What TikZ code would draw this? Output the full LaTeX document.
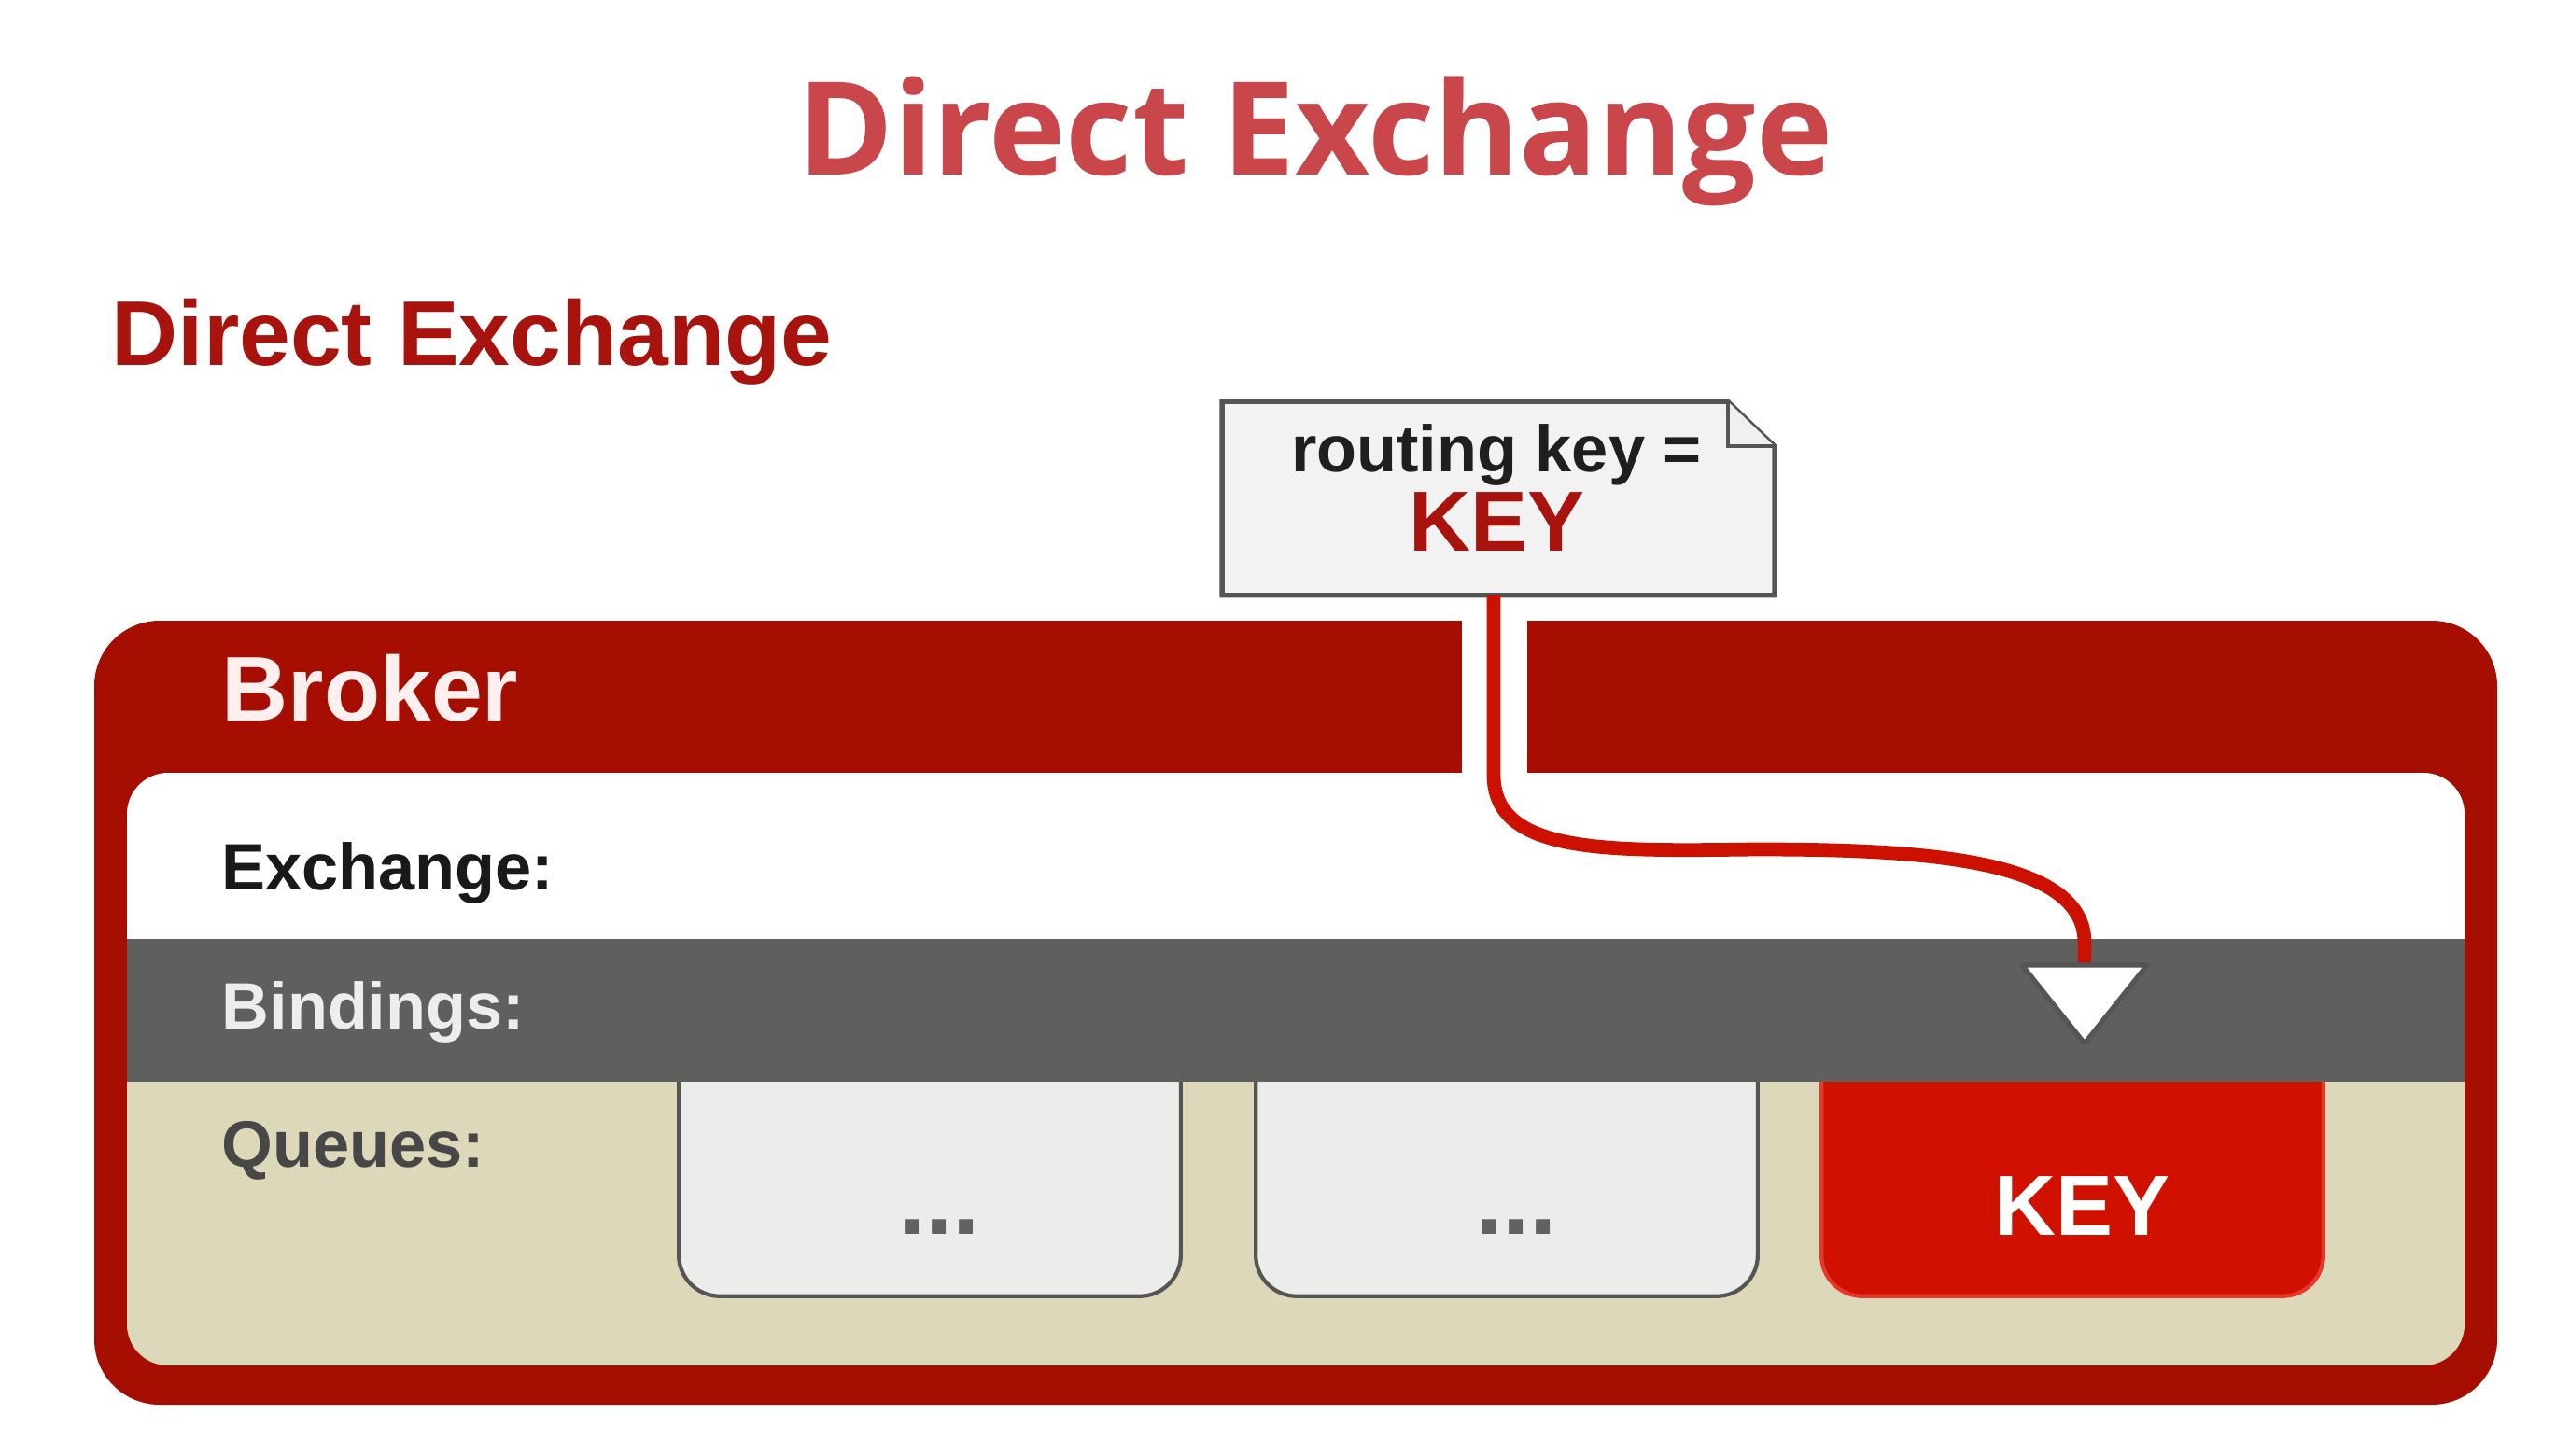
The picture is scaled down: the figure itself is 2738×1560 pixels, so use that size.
\documentclass[tikz,border=0pt]{standalone}
\usepackage{fontspec}
\setmainfont{Liberation Sans}
\newfontfamily\titlefont{Open Sans}
\usepackage{tikz}
\usetikzlibrary{positioning, calc}
\definecolor{titlered}{HTML}{C9464A}
\definecolor{subred}{HTML}{A8130D}
\definecolor{brokerred}{HTML}{A50E00}
\definecolor{bindgray}{HTML}{5F605D}
\definecolor{queuebeige}{HTML}{DED8BA}
\definecolor{shadowbeige}{HTML}{C6C3A6}
\definecolor{queuefill}{HTML}{ECEDEB}
\definecolor{edgegray}{HTML}{555555}
\definecolor{keyred}{HTML}{D01100}
\definecolor{keyedge}{HTML}{E8382A}
\definecolor{routered}{HTML}{CC1100}
\definecolor{notefill}{HTML}{F2F2F2}

\begin{document}
\begin{tikzpicture}[
    x=0.01cm, y=-0.01cm,
    lbl/.style={anchor=base west, inner sep=0pt, font=\bfseries\fontsize{20}{24}\selectfont},
    qbox/.style={minimum width=5.36cm, minimum height=2.29cm, inner sep=0pt},
    qshape/.style={draw=#1, line width=1.2pt, rounded corners=0.44cm},
    route/.style={draw=routered, line width=4.2pt},
  ]
  \useasboundingbox[fill=white] (0,0) rectangle (2738,1560);

  % titles
  \node[anchor=base, inner sep=0pt, text=titlered, font=\titlefont\bfseries\fontsize{39.5}{48}\selectfont] (title) at (1409,187) {Direct Exchange};
  \node[anchor=base west, inner sep=0pt, text=subred, font=\bfseries\fontsize{28}{32}\selectfont] (subtitle) at (119,391) {Direct Exchange};

  % broker frame
  \fill[brokerred, rounded corners=0.7cm] (101,665) rectangle (2675,1505);
  \fill[white] (1566,655) rectangle (1636,840);
  \begin{scope}
    \clip[rounded corners=0.44cm] (136,828) rectangle (2640,1463);
    \fill[white] (136,828) rectangle (2640,1006);
    \fill[queuebeige] (136,1006) rectangle (2640,1463);
    \node[qbox] (q1) at (996,1273.5) {};
    \node[qbox] (q2) at (1614,1273.5) {};
    \node[qbox] (q3) at (2220,1273.5) {};
    \foreach \q/\f/\e in {q1/queuefill/edgegray, q2/queuefill/edgegray, q3/keyred/keyedge} {
      \fill[shadowbeige, rounded corners=0.44cm, shift={(9,11)}] ($(\q.north west)+(0,-60)$) -- (\q.south west) -- (\q.south east) -- ($(\q.north east)+(0,-60)$) -- cycle;
      \fill[\f, rounded corners=0.44cm] ($(\q.north west)+(0,-60)$) -- (\q.south west) -- (\q.south east) -- ($(\q.north east)+(0,-60)$) -- cycle;
      \draw[qshape=\e] ($(\q.north west)+(0,-60)$) -- (\q.south west) -- (\q.south east) -- ($(\q.north east)+(0,-60)$);
    }
    \fill[bindgray] (136,1006) rectangle (2640,1159);
  \end{scope}

  \node[anchor=base west, inner sep=0pt, text=white!94!red, font=\bfseries\fontsize{28}{32}\selectfont] (broker) at (237,772) {Broker};
  \node[lbl, text=black!90] (exch) at (237,953) {Exchange:};
  \node[lbl, text=white!93!black] (bind lbl) at (237,1102) {Bindings:};
  \node[lbl, text=black!72] (queues) at (237,1250) {Queues:};

  \node[anchor=base, text=black!62, font=\bfseries\fontsize{30}{32}\selectfont] (dots1) at ($(q1.south)+(10,-66)$) {...};
  \node[anchor=base, text=black!62, font=\bfseries\fontsize{30}{32}\selectfont] (dots2) at ($(q2.south)+(10,-66)$) {...};
  \node[anchor=base, text=white, font=\bfseries\fontsize{26}{30}\selectfont] (key) at ($(q3.south)+(10,-65)$) {KEY};

  % routing key note
  \node[minimum width=5.9cm, minimum height=2.06cm, inner sep=0pt] (rk) at (1605,534) {};
  \draw[edgegray, fill=notefill, line width=1.5pt] (rk.south west) -- (rk.north west) -- ($(rk.north east)+(-50,0)$) -- ($(rk.north east)+(0,48)$) -- (rk.south east) -- cycle;
  \draw[edgegray, fill=black!6, line width=1.2pt] ($(rk.north east)+(-50,0)$) -- ($(rk.north east)+(-50,48)$) -- ($(rk.north east)+(0,48)$);
  \node[anchor=base, inner sep=0pt, text=black!88, font=\bfseries\fontsize{20}{24}\selectfont] (rktext) at (1603,505) {routing key =};
  \node[anchor=base, inner sep=0pt, text=subred, font=\bfseries\fontsize{26}{30}\selectfont] (rkkey) at (1603,590) {KEY};

  % route to binding
  \coordinate (bind) at (2233,1045);
  \draw[route] (rk.south -| 1600,0) -- (1600,830) .. controls (1600,915) and (1720,912) .. (1880,910) .. controls (2060,910) and (2233,920) .. (2233,1010) -- (bind);
  \draw[edgegray, fill=white, line width=1.5pt, line join=round] (2166,1034) -- (2300,1034) -- (2233,1118) -- cycle;
\end{tikzpicture}
\end{document}
